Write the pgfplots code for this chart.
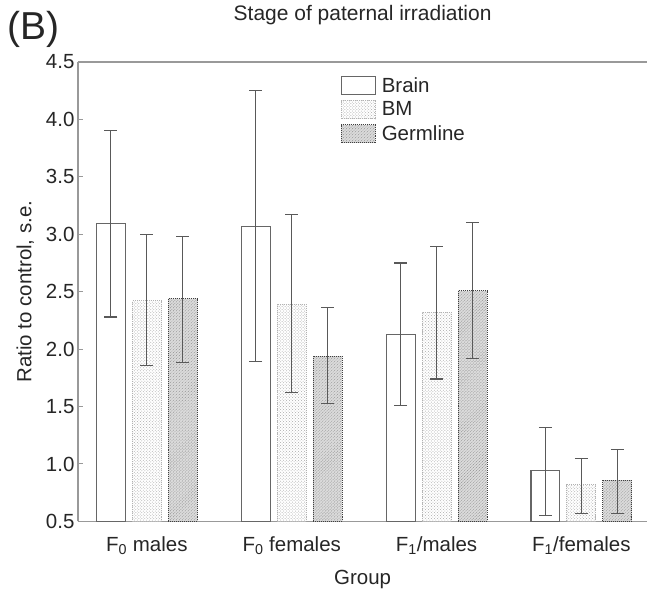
\documentclass[border=0pt]{standalone}
\usepackage{fontspec}
\setmainfont{Liberation Sans}
\usepackage{pgfplots}
\pgfplotsset{compat=1.18}
\usetikzlibrary{patterns}

\definecolor{axisgray}{gray}{0.6}
\definecolor{bargray}{gray}{0.4}
\definecolor{errgray}{gray}{0.35}
\definecolor{textgray}{gray}{0.15}

\newcommand{\lblfont}{\fontsize{20.5bp}{23bp}\selectfont}

\pgfplotsset{
  barlegend/.style={legend image code/.code={\draw[##1] (0bp,-9bp) rectangle (34bp,9bp);}},
}

\begin{document}
\begin{tikzpicture}
\begin{axis}[
  scale only axis, width=570bp, height=460bp,
  xmin=-0.476, xmax=3.455, ymin=0.5, ymax=4.5,
  axis x line*=box, axis y line*=left,
  axis line style={axisgray, line width=1.4bp},
  ybar=7bp, bar width=29bp,
  xtick={0,1,2,3},
  xticklabels={F\textsubscript{0} males, F\textsubscript{0} females, F\textsubscript{1}/males, F\textsubscript{1}/females},
  xtick style={draw=none},
  ytick={0.5,1,...,4.5},
  ytick style={axisgray, line width=1bp},
  tick align=inside, major tick length=5bp,
  yticklabel style={/pgf/number format/fixed, /pgf/number format/precision=1, /pgf/number format/fixed zerofill},
  /pgf/number format/assume math mode=true,
  tick label style={font=\lblfont, text=textgray},
  xticklabel style={yshift=-12bp},
  label style={font=\lblfont, text=textgray},
  xlabel={Group}, ylabel={Ratio to control, s.e.},
  xlabel style={yshift=-8bp},
  ylabel style={yshift=5bp},
  legend style={at={(rel axis cs:0.456,0.975)}, anchor=north west, draw=none, fill=none,
    font=\lblfont, text=textgray, row sep=4bp, legend cell align=left,
    /tikz/every odd column/.append style={column sep=4bp}},
  error bars/y dir=both, error bars/y explicit,
  error bars/error bar style={errgray, line width=1.1bp, solid},
  error bars/error mark options={rotate=90, mark size=6.5bp, line width=1.1bp, errgray, solid},
]
% Brain
\addplot[barlegend, fill=white, draw=bargray, line width=1.1bp] coordinates {
  (0,3.09) += (0,0.81) -= (0,0.81)
  (1,3.07) += (0,1.18) -= (0,1.18)
  (2,2.13) += (0,0.62) -= (0,0.62)
  (3,0.94) += (0,0.38) -= (0,0.39)
};
% BM
\addplot[barlegend, fill=white, draw=gray!60, densely dotted, line width=1bp,
  postaction={pattern=crosshatch dots, pattern color=gray!65}] coordinates {
  (0,2.42) += (0,0.58) -= (0,0.56)
  (1,2.39) += (0,0.78) -= (0,0.77)
  (2,2.32) += (0,0.57) -= (0,0.58)
  (3,0.82) += (0,0.23) -= (0,0.25)
};
% Germline
\addplot[barlegend, fill=gray!28, draw=gray!50!black, densely dotted, line width=1bp,
  postaction={pattern=north east lines, pattern color=gray!85}] coordinates {
  (0,2.44) += (0,0.54) -= (0,0.56)
  (1,1.94) += (0,0.42) -= (0,0.41)
  (2,2.51) += (0,0.59) -= (0,0.59)
  (3,0.86) += (0,0.27) -= (0,0.29)
};
\legend{Brain, BM, Germline}
\coordinate (sw) at (rel axis cs:0,0);
\coordinate (ne) at (rel axis cs:1,1);
\coordinate (tt) at (rel axis cs:0.5,1);
\coordinate (tl) at (rel axis cs:0,1);
\end{axis}
\node[font=\fontsize{21bp}{24bp}\selectfont, text=textgray] at ([yshift=47bp]tt) {Stage of paternal irradiation};
\node[font=\fontsize{39bp}{43bp}\selectfont, text=textgray] at ([xshift=-44bp,yshift=33bp]tl) {(B)};
\path ([shift={(-78bp,-68bp)}]sw) rectangle ([shift={(0bp,62bp)}]ne);
\end{tikzpicture}
\end{document}
